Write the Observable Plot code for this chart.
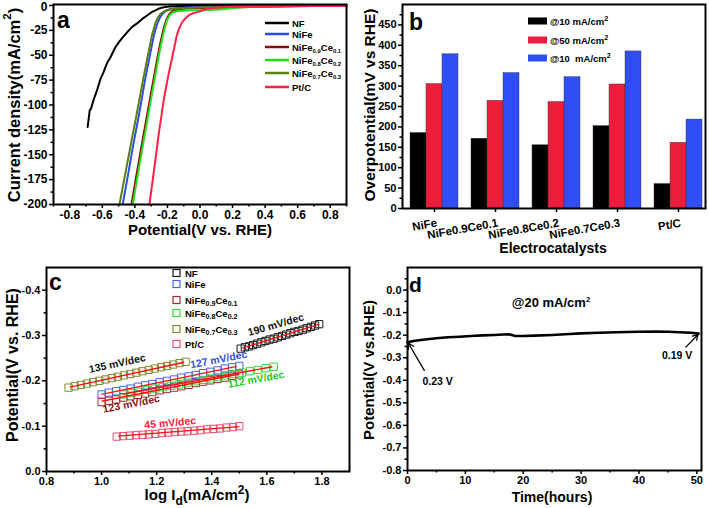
<!DOCTYPE html>
<html><head><meta charset="utf-8">
<script src="https://cdn.jsdelivr.net/npm/d3@7"></script>
<script src="https://cdn.jsdelivr.net/npm/@observablehq/plot@0.6"></script>
<style>
body{margin:0;background:#fff;}
#root{position:relative;width:709px;height:508px;overflow:hidden;background:#fff;}
#root svg{position:absolute;overflow:visible;}
</style></head><body><div id="root"></div>
<script>
// ---------- Panel a: LSV curves ----------
const lsvSeries = ["NF","NiFe","NiFe0.9Ce0.1","NiFe0.8Ce0.2","NiFe0.7Ce0.3","Pt/C"];
const lsvColors = ["#000000","#2b4ee6","#8b0a0a","#22e01a","#5d7d10","#ff2146"];
const nfV = [-0.690,-0.684,-0.677,-0.670,-0.663,-0.650,-0.632,-0.612,-0.595,-0.581,-0.565,-0.550,-0.535,-0.520,-0.499,-0.475,-0.448,-0.420,-0.387,-0.355,-0.325,-0.300,-0.274,-0.250,-0.223,-0.190,-0.162,-0.100,0.000,0.200,0.500,0.900];
const nfJ = [-122,-114,-105,-104,-100,-93,-85,-74,-68,-62,-56,-52,-47,-42,-37,-32,-27,-22,-18,-13.5,-10,-7,-5,-3,-1.7,-1.0,-0.7,-0.4,-0.2,0,0.3,0.5];
const nifeV = [-0.475,-0.442,-0.410,-0.375,-0.338,-0.308,-0.283,-0.262,-0.245,-0.228,-0.210,-0.190,-0.165,-0.130,-0.080,0.000,0.150,0.300,0.600,0.900];
const nifeJ = [-200,-170,-140,-110,-75,-50,-30,-18,-12,-8,-5.5,-4,-3,-2.5,-2,-1.5,-1,-0.7,-0.2,0.5];
const ce01V = [-0.421,-0.390,-0.358,-0.325,-0.290,-0.262,-0.240,-0.222,-0.205,-0.190,-0.172,-0.150,-0.120,-0.080,0.000,0.150,0.300,0.600,0.900];
const ce01J = [-200,-170,-140,-110,-78,-53,-35,-22,-14,-9,-6,-4.5,-3.5,-3,-2.5,-2,-1.5,-0.8,0];
const ce02V = [-0.413,-0.382,-0.350,-0.318,-0.283,-0.256,-0.234,-0.216,-0.200,-0.185,-0.168,-0.148,-0.120,-0.080,-0.020,0.050,0.120,0.180,0.250,0.400,0.600,0.900];
const ce02J = [-200,-170,-140,-110,-78,-53,-35,-22,-14,-9.5,-7,-6,-5.5,-5,-4.8,-4.5,-4,-3,-2,-1,-0.5,0];
const ce03V = [-0.495,-0.460,-0.425,-0.390,-0.350,-0.320,-0.295,-0.275,-0.258,-0.240,-0.222,-0.200,-0.170,-0.130,-0.080,0.000,0.150,0.300,0.600,0.900];
const ce03J = [-200,-170,-140,-110,-75,-50,-30,-18,-12,-8,-6,-4.5,-3.5,-3,-2.5,-2,-1.5,-1,-0.3,0.5];
const ptcV = [-0.311,-0.290,-0.270,-0.256,-0.250,-0.236,-0.223,-0.208,-0.193,-0.177,-0.162,-0.150,-0.141,-0.125,-0.110,-0.090,-0.070,-0.045,-0.018,0.015,0.043,0.100,0.200,0.400,0.600,0.900];
const ptcJ = [-200,-175,-150,-132,-125,-110,-95,-82,-69,-57,-45,-36,-29,-22,-17,-13,-10,-8,-6.7,-5,-3.3,-2,-1,-0.8,-0.6,-0.5];
const lsvV = [nfV, nifeV, ce01V, ce02V, ce03V, ptcV];
const lsvJ = [nfJ, nifeJ, ce01J, ce02J, ce03J, ptcJ];
const aXTicks = [-0.8,-0.6,-0.4,-0.2,0,0.2,0.4,0.6,0.8];
const aXMinor = [-0.9,-0.7,-0.5,-0.3,-0.1,0.1,0.3,0.5,0.7,0.9];
const aYTicks = [0,-25,-50,-75,-100,-125,-150,-175,-200];
const aYMinor = [-12.5,-37.5,-62.5,-87.5,-112.5,-137.5,-162.5,-187.5];

// ---------- Panel b: overpotential bars ----------
const catalysts = ["NiFe","NiFe0.9Ce0.1","NiFe0.8Ce0.2","NiFe0.7Ce0.3","Pt/C"];
const eta10 = [185,171,155,202,60];
const eta50 = [305,264,261,304,161];
const eta100 = [378,332,322,385,218];
const barSeries = ["@10 mA/cm","@50 mA/cm","@10\u00a0 mA/cm"];
const barColors = ["#000000","#f01c3c","#2f4ef5"];
const bYTicks = [0,50,100,150,200,250,300,350,400,450];
const bYMinor = [25,75,125,175,225,275,325,375,425,475];

// ---------- Panel c: Tafel plots ----------
const tafelSeries = ["NF","NiFe","NiFe0.9Ce0.1","NiFe0.8Ce0.2","NiFe0.7Ce0.3","Pt/C"];
const tafelColors = ["#1a1a1a","#4a66ee","#a82a30","#33dd33","#7d8a30","#ea5070"];
const tafelLogJ = [
  [1.505,1.520,1.535,1.550,1.565,1.580,1.595,1.610,1.625,1.640,1.655,1.670,1.685,1.700,1.715,1.730,1.745,1.760,1.775,1.790],
  [1.000,1.026,1.053,1.079,1.105,1.132,1.158,1.184,1.211,1.237,1.263,1.289,1.316,1.342,1.368,1.395,1.421,1.447,1.474,1.500],
  [1.000,1.026,1.053,1.079,1.105,1.132,1.158,1.184,1.211,1.237,1.263,1.289,1.316,1.342,1.368,1.395,1.421,1.447,1.474,1.500],
  [1.080,1.109,1.137,1.166,1.195,1.223,1.252,1.281,1.309,1.338,1.367,1.395,1.424,1.453,1.481,1.510,1.539,1.567,1.596,1.625],
  [0.880,0.902,0.925,0.947,0.969,0.992,1.014,1.037,1.059,1.081,1.104,1.126,1.148,1.171,1.193,1.216,1.238,1.260,1.283,1.305],
  [1.055,1.078,1.102,1.125,1.149,1.172,1.195,1.219,1.242,1.266,1.289,1.312,1.336,1.359,1.383,1.406,1.430,1.453,1.477,1.500]
];
const tafelE = [
  [-0.271,-0.274,-0.276,-0.279,-0.282,-0.285,-0.288,-0.291,-0.293,-0.296,-0.299,-0.302,-0.305,-0.308,-0.310,-0.313,-0.316,-0.319,-0.322,-0.325],
  [-0.170,-0.174,-0.177,-0.180,-0.183,-0.187,-0.190,-0.193,-0.197,-0.200,-0.203,-0.207,-0.210,-0.213,-0.217,-0.220,-0.223,-0.227,-0.230,-0.233],
  [-0.153,-0.156,-0.159,-0.163,-0.166,-0.169,-0.172,-0.175,-0.179,-0.182,-0.185,-0.188,-0.191,-0.195,-0.198,-0.201,-0.204,-0.207,-0.211,-0.214],
  [-0.170,-0.173,-0.176,-0.180,-0.183,-0.186,-0.189,-0.192,-0.196,-0.199,-0.202,-0.205,-0.208,-0.212,-0.215,-0.218,-0.221,-0.224,-0.228,-0.231],
  [-0.185,-0.188,-0.191,-0.194,-0.197,-0.200,-0.203,-0.206,-0.209,-0.212,-0.215,-0.218,-0.221,-0.224,-0.227,-0.230,-0.233,-0.236,-0.239,-0.242],
  [-0.077,-0.078,-0.079,-0.080,-0.081,-0.082,-0.083,-0.085,-0.086,-0.087,-0.088,-0.089,-0.090,-0.091,-0.093,-0.094,-0.095,-0.097,-0.098,-0.100]
];
const fitX1 = [1.51,1.00,1.00,1.08,0.885,1.06];
const fitY1 = [-0.272,-0.170,-0.155,-0.171,-0.186,-0.078];
const fitX2 = [1.79,1.49,1.50,1.62,1.30,1.50];
const fitY2 = [-0.325,-0.232,-0.215,-0.231,-0.241,-0.099];
const slopeLabels = ["190 mV/dec","135 mV/dec","127 mV/dec","112 mV/dec","123 mV/dec","45 mV/dec"];
const slopeAtX = [1.633,1.057,1.425,1.561,1.108,1.249];
const slopeAtY = [-0.3235,-0.238,-0.247,-0.203,-0.149,-0.107];
const slopeColors = ["#111111","#111111","#2b4ee6","#22cc22","#8b1010","#ff2040"];
const cXTicks = [0.8,1.0,1.2,1.4,1.6,1.8];
const cXMinor = [0.9,1.1,1.3,1.5,1.7];
const cYTicks = [0,-0.1,-0.2,-0.3,-0.4];
const cYMinor = [-0.05,-0.15,-0.25,-0.35];

// ---------- Panel d: stability ----------
const hours = [0,1,3,5,7,9,11,13,15,16.5,17.5,18.5,20,22,25,28,30,33,36,40,43,45,47,49,50.3];
const potential = [-0.232,-0.226,-0.219,-0.214,-0.209,-0.207,-0.204,-0.201,-0.199,-0.197,-0.196,-0.203,-0.204,-0.202,-0.199,-0.195,-0.192,-0.189,-0.187,-0.185,-0.184,-0.185,-0.187,-0.189,-0.193];
const arrowX1 = [2.9,48.1], arrowY1 = [-0.356,-0.253], arrowX2 = [0.15,50.2], arrowY2 = [-0.236,-0.197];
const noteText = ["0.23 V","0.19 V"], noteX = [5.2,46.6], noteY = [-0.405,-0.29];
const dXTicks = [0,10,20,30,40,50];
const dXMinor = [5,15,25,35,45];
const dYTicks = [0,-0.1,-0.2,-0.3,-0.4,-0.5,-0.6,-0.7,-0.8];
const dYMinor = [0.05,-0.05,-0.15,-0.25,-0.35,-0.45,-0.55,-0.65,-0.75];

// ---------- helpers ----------
const FONT = "'Liberation Sans', Arial, Helvetica, sans-serif";
const st = (fs) => ({fontFamily: FONT, fontWeight: "bold", fontSize: fs + "px", background: "transparent", overflow: "visible", color: "black"});
const f1 = d => d.toFixed(1);
const blank = () => "";
function panel(opts, left, top) {
  const svg = Plot.plot(opts);
  svg.style.left = left + "px"; svg.style.top = top + "px";
  document.getElementById("root").appendChild(svg);
  return d3.select(svg);
}
function rich(sel, x, y, parts, o = {}) {
  const size = o.size || 10;
  const t = sel.append("text").attr("x", x).attr("y", y)
    .attr("font-family", FONT).attr("font-weight", "bold").attr("font-size", size)
    .attr("fill", o.fill || "black").attr("text-anchor", o.anchor || "start");
  if (o.baseline) t.attr("dominant-baseline", o.baseline);
  if (o.rotate) t.attr("transform", `rotate(${o.rotate},${x},${y})`);
  const k = o.k || 0.68;
  let shift = 0;
  for (const p of parts) {
    const [s, kind] = Array.isArray(p) ? p : [p, null];
    const target = kind === "sub" ? size * 0.3 : kind === "sup" ? -size * 0.42 : 0;
    t.append("tspan").attr("dy", target - shift).attr("font-size", kind ? size * k : size).text(s);
    shift = target;
  }
  return t;
}
const seriesParts = [
  ["NF"], ["NiFe"],
  ["NiFe", ["0.9","sub"], "Ce", ["0.1","sub"]],
  ["NiFe", ["0.8","sub"], "Ce", ["0.2","sub"]],
  ["NiFe", ["0.7","sub"], "Ce", ["0.3","sub"]],
  ["Pt/C"]
];
const axisOpts = {strokeWidth: 1.5, label: null};

// ---------- draw panel a ----------
const sa = panel({
  width: 354, height: 250, marginLeft: 53, marginRight: 8, marginTop: 4, marginBottom: 46,
  style: st(12),
  x: {domain: [-0.9, 0.9]}, y: {domain: [-200, 1]},
  marks: [
    ...lsvSeries.map((s, i) => Plot.line(lsvV[i], {x: lsvV[i], y: lsvJ[i], stroke: lsvColors[i], strokeWidth: 2})),
    Plot.axisX({...axisOpts, ticks: aXTicks, tickSize: 4, tickPadding: 2, tickFormat: f1}),
    Plot.axisX({...axisOpts, ticks: aXMinor, tickSize: 2.5, tickFormat: blank}),
    Plot.axisY({...axisOpts, ticks: aYTicks, tickSize: 4, tickPadding: 2, tickFormat: d => d === 0 ? "" : String(d)}),
    Plot.axisY({...axisOpts, ticks: [0], tickSize: 0, tickPadding: 6, dy: 2, tickFormat: d => String(d)}),
    Plot.axisY({...axisOpts, ticks: aYMinor, tickSize: 2.5, tickFormat: blank}),
    Plot.frame({stroke: "black", strokeWidth: 2})
  ]
}, 0, 0);
rich(sa, 57, 28, ["a"], {size: 23});
rich(sa, 200, 235, ["Potential(V vs. RHE)"], {size: 15, anchor: "middle"});
rich(sa, 14, 105, ["Current density(mA/cm", ["2","sup"], ")"], {size: 16.5, anchor: "middle", rotate: -90, baseline: "central", k: 0.7});
const aRows = [23, 34, 47, 60, 73, 87];
lsvSeries.forEach((s, i) => {
  sa.append("line").attr("x1", 265).attr("x2", 289).attr("y1", aRows[i]).attr("y2", aRows[i])
    .attr("stroke", lsvColors[i]).attr("stroke-width", 2.5);
  rich(sa, 292, aRows[i] + 3.5, seriesParts[i], {size: 9.5, k: 0.62});
});

// ---------- draw panel b ----------
const sb = panel({
  width: 355, height: 255, marginLeft: 48, marginRight: 4, marginTop: 4, marginBottom: 47,
  style: st(11),
  x: {type: "band", domain: catalysts, paddingInner: 0.213, paddingOuter: 0.09, align: 0.73},
  y: {domain: [0, 500]},
  marks: [
    Plot.barY(catalysts, {x: catalysts, y: eta10, fill: barColors[0], insetLeft: 0, insetRight: 32, stroke: "#333", strokeWidth: 0.4}),
    Plot.barY(catalysts, {x: catalysts, y: eta50, fill: barColors[1], insetLeft: 16, insetRight: 16, stroke: "#333", strokeWidth: 0.4}),
    Plot.barY(catalysts, {x: catalysts, y: eta100, fill: barColors[2], insetLeft: 32, insetRight: 0, stroke: "#333", strokeWidth: 0.4}),
    Plot.axisX({...axisOpts, tickSize: 4, tickFormat: blank}),
    Plot.text(catalysts, {x: catalysts, text: catalysts, frameAnchor: "bottom", dy: 18, dx: 3, rotate: -10, textAnchor: "end", fontSize: 11.5, fontWeight: "bold"}),
    Plot.axisY({...axisOpts, ticks: bYTicks, tickSize: 4, tickPadding: 2, tickFormat: d => String(d)}),
    Plot.axisY({...axisOpts, ticks: bYMinor, tickSize: 2.5, tickFormat: blank}),
    Plot.frame({stroke: "black", strokeWidth: 2})
  ]
}, 354, 0);
rich(sb, 55, 30, ["b"], {size: 23});
rich(sb, 199, 253, ["Electrocatalysts"], {size: 14, anchor: "middle"});
rich(sb, 15, 105, ["Overpotential(mV vs RHE)"], {size: 15.5, anchor: "middle", rotate: -90, baseline: "central"});
const bRows = [21, 40, 58];
barSeries.forEach((s, i) => {
  sb.append("rect").attr("x", 174).attr("y", bRows[i] - 3.5).attr("width", 19).attr("height", 7).attr("fill", barColors[i]);
  rich(sb, 196, bRows[i] + 3.5, [s, ["2","sup"]], {size: 9.5, k: 0.75});
});

// ---------- draw panel c ----------
const sc = panel({
  width: 354, height: 253, marginLeft: 46, marginRight: 5, marginTop: 12, marginBottom: 37,
  style: st(11),
  x: {domain: [0.8, 1.9]}, y: {domain: [0, -0.45]},
  marks: [
    ...tafelSeries.map((s, i) => Plot.dot(tafelLogJ[i], {x: tafelLogJ[i], y: tafelE[i], symbol: "square", r: 4.1, stroke: tafelColors[i], strokeWidth: 1, fill: "none"})),
    Plot.link(fitX1, {x1: fitX1, y1: fitY1, x2: fitX2, y2: fitY2, stroke: "#ff1010", strokeWidth: 1.4}),
    ...slopeLabels.map((s, i) => Plot.text([s], {x: [slopeAtX[i]], y: [slopeAtY[i]], text: [s], fill: slopeColors[i], fontSize: 10.5, fontWeight: "bold", rotate: [-16, -12, -11, -10, -11, -5][i]})),
    Plot.axisX({...axisOpts, ticks: cXTicks, tickSize: 4, tickPadding: 2, tickFormat: f1}),
    Plot.axisX({...axisOpts, ticks: cXMinor, tickSize: 2.5, tickFormat: blank}),
    Plot.axisY({...axisOpts, ticks: cYTicks, tickSize: 4, tickPadding: 2, tickFormat: f1}),
    Plot.axisY({...axisOpts, ticks: cYMinor, tickSize: 2.5, tickFormat: blank}),
    Plot.frame({stroke: "black", strokeWidth: 2})
  ]
}, 0, 255);
rich(sc, 49, 35, ["c"], {size: 23});
rich(sc, 197, 245, ["log I", ["d","sub"], "(mA/cm", ["2","sup"], ")"], {size: 15, anchor: "middle", k: 0.8});
rich(sc, 12, 110, ["Potential(V vs. RHE)"], {size: 16, anchor: "middle", rotate: -90, baseline: "central"});
const cRows = [18, 29, 45, 58, 74, 89];
tafelSeries.forEach((s, i) => {
  sc.append("rect").attr("x", 173).attr("y", cRows[i] - 3.5).attr("width", 7).attr("height", 7)
    .attr("fill", "none").attr("stroke", tafelColors[i]).attr("stroke-width", 1.2);
  rich(sc, 185, cRows[i] + 3.5, seriesParts[i], {size: 9.5, k: 0.75});
});

// ---------- draw panel d ----------
const sd = panel({
  width: 355, height: 253, marginLeft: 53, marginRight: 8, marginTop: 12, marginBottom: 38,
  style: st(11),
  x: {domain: [0, 50.8]}, y: {domain: [-0.8, 0.1]},
  marks: [
    Plot.line(hours, {x: hours, y: potential, stroke: "black", strokeWidth: 2.6}),
    Plot.arrow(arrowX1, {x1: arrowX1, y1: arrowY1, x2: arrowX2, y2: arrowY2, stroke: "black", strokeWidth: 1.3, headLength: 7}),
    Plot.text(noteText, {x: noteX, y: noteY, text: noteText, fontSize: 10.5, fontWeight: "bold"}),
    Plot.axisX({...axisOpts, ticks: dXTicks, tickSize: 4, tickPadding: 2, tickFormat: d => String(d)}),
    Plot.axisX({...axisOpts, ticks: dXMinor, tickSize: 2.5, tickFormat: blank}),
    Plot.axisY({...axisOpts, ticks: dYTicks, tickSize: 4, tickPadding: 2, tickFormat: f1}),
    Plot.axisY({...axisOpts, ticks: dYMinor, tickSize: 2.5, tickFormat: blank}),
    Plot.frame({stroke: "black", strokeWidth: 2})
  ]
}, 354, 255);
rich(sd, 55, 37, ["d"], {size: 21});
rich(sd, 197, 52, ["@20 mA/cm", ["2","sup"]], {size: 13, anchor: "middle", k: 0.6});
rich(sd, 198, 247, ["Time(hours)"], {size: 14, anchor: "middle"});
rich(sd, 14, 115, ["Potential(V vs.RHE)"], {size: 15, anchor: "middle", rotate: -90, baseline: "central"});
</script></body></html>
